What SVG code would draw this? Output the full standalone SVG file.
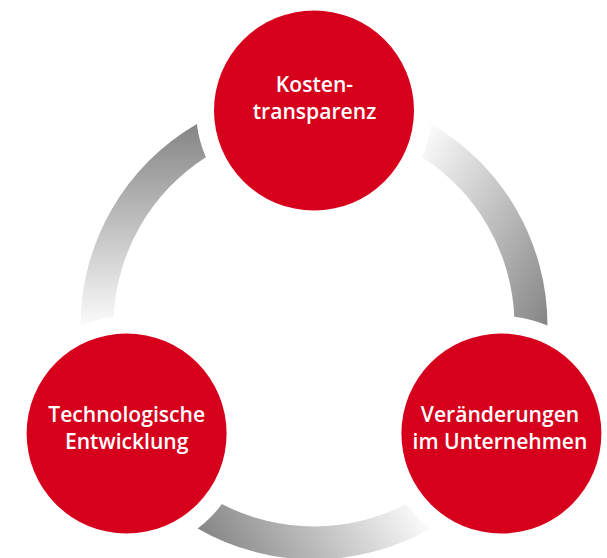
<svg xmlns="http://www.w3.org/2000/svg" xmlns:xlink="http://www.w3.org/1999/xlink" width="607" height="558" viewBox="0 0 607 558">
  <style>
    .node circle { fill: #d7001c; }
    .label { fill: #ffffff; font-family: "Open Sans", "Noto Sans", "Liberation Sans", sans-serif; font-weight: 600; font-size: 21.1px; text-anchor: middle; }
  </style>
  <defs>
    <linearGradient id="arcGrad" gradientUnits="userSpaceOnUse" x1="0" y1="124" x2="0" y2="326">
      <stop offset="0" stop-color="#858585"/>
      <stop offset="1" stop-color="#fbfbfb"/>
    </linearGradient>
    <path id="arc" d="M 80.5 325.55 A 233.5 233.5 0 0 1 196.86 124.01 A 118 118 0 0 0 205.86 157.16 A 200.5 200.5 0 0 0 113.71 316.77 A 118 118 0 0 0 80.5 325.55 Z" fill="url(#arcGrad)"/>
  </defs>
  <rect x="0" y="0" width="607" height="558" fill="#ffffff"/>
  <g id="connectors">
    <use xlink:href="#arc" href="#arc"/>
    <use xlink:href="#arc" href="#arc" transform="rotate(120 314 326)"/>
    <use xlink:href="#arc" href="#arc" transform="rotate(240 314 326)"/>
  </g>
  <g id="node-kostentransparenz" class="node">
    <circle cx="314" cy="110.5" r="100"/>
    <text class="label" x="314.5" y="92">Kosten-</text>
    <text class="label" x="314.5" y="119">transparenz</text>
  </g>
  <g id="node-technologische-entwicklung" class="node">
    <circle cx="126.6" cy="433.5" r="100"/>
    <text class="label" x="126.7" y="421.5">Technologische</text>
    <text class="label" x="126.7" y="448.5">Entwicklung</text>
  </g>
  <g id="node-veraenderungen" class="node">
    <circle cx="501.4" cy="433.5" r="100"/>
    <text class="label" x="500" y="422">Veränderungen</text>
    <text class="label" x="500" y="449">im Unternehmen</text>
  </g>
</svg>
